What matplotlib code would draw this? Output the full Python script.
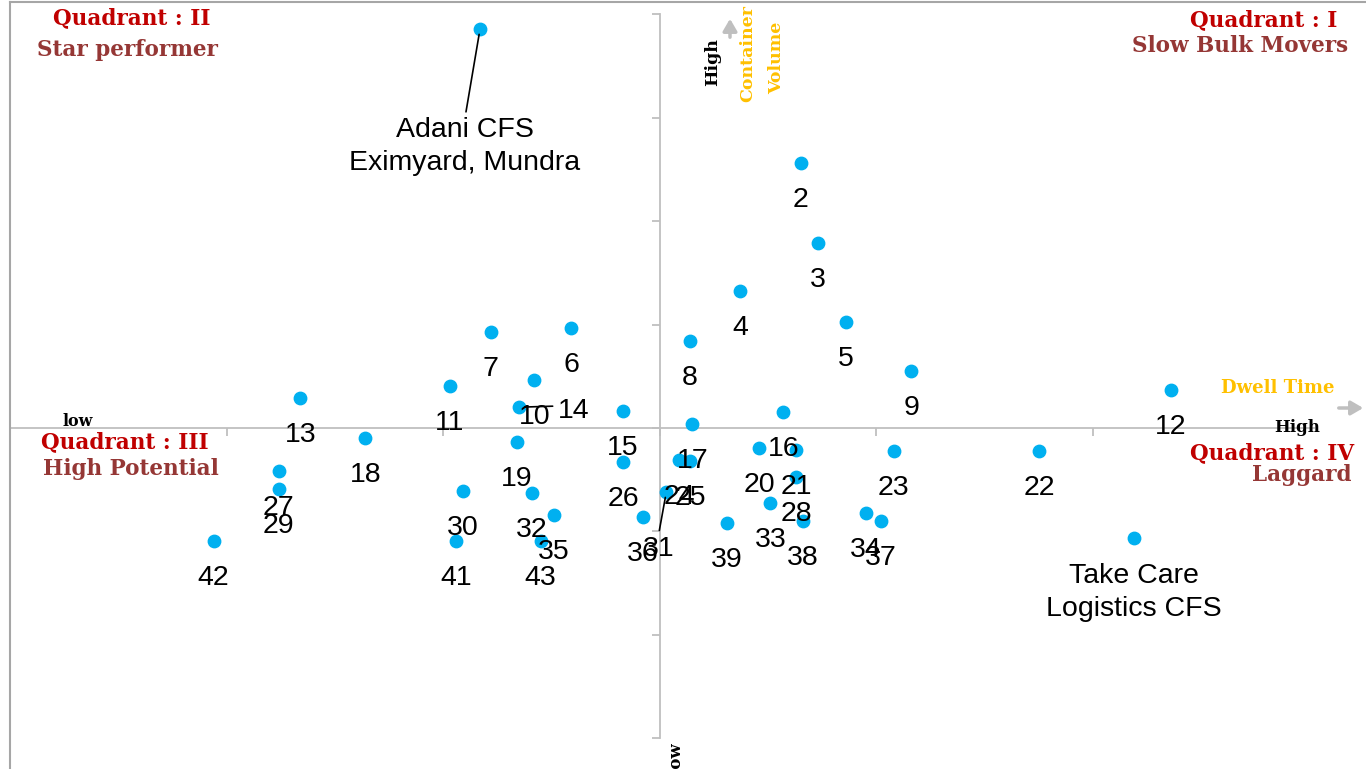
import matplotlib.pyplot as plt
from matplotlib.lines import Line2D
from matplotlib.patches import FancyArrowPatch

# data (axes cross at the average: x = dwell time, y = container volume)
labels = ["Adani CFS\nEximyard, Mundra", "2", "3", "4", "5", "6", "7", "8", "9", "10",
          "11", "12", "13", "14", "15", "16", "17", "18", "19", "20",
          "21", "22", "23", "24", "25", "26", "27", "28", "29", "30",
          "31", "32", "33", "34", "35", "36", "37", "38", "39", "41",
          "42", "43", "Take Care\nLogistics CFS"]
dwell = [-0.83, 0.65, 0.73, 0.37, 0.86, -0.41, -0.78, 0.14, 1.16, -0.58,
         -0.97, 2.36, -1.66, -0.65, -0.17, 0.57, 0.15, -1.36, -0.66, 0.46,
         0.63, 1.75, 1.08, 0.09, 0.14, -0.17, -1.76, 0.63, -1.76, -0.91,
         0.03, -0.59, 0.51, 0.95, -0.49, -0.08, 1.02, 0.66, 0.31, -0.94,
         -2.06, -0.55, 2.19]
volume = [3.86, 2.56, 1.79, 1.32, 1.02, 0.97, 0.93, 0.84, 0.55, 0.46,
          0.41, 0.37, 0.29, 0.20, 0.16, 0.15, 0.04, -0.10, -0.14, -0.19,
          -0.21, -0.22, -0.22, -0.31, -0.32, -0.33, -0.42, -0.48, -0.59, -0.61,
          -0.62, -0.63, -0.73, -0.82, -0.84, -0.86, -0.90, -0.90, -0.92, -1.09,
          -1.09, -1.09, -1.07]

W, H = 1366, 769
fig = plt.figure(figsize=(W / 100, H / 100), dpi=100)
ax = fig.add_axes([10 / W, 0, (W - 10) / W, (H - 2) / H])

grey = "#BFBFBF"
ax.set_xlim(-3.0, 3.26)
ax.set_ylim(-3.30, 4.12)

for s in ["right", "top"]:
    ax.spines[s].set_visible(False)
ax.spines["left"].set_position(("data", 0))
ax.spines["bottom"].set_position(("data", 0))
ax.spines["left"].set_bounds(-3, 4)
ax.spines["bottom"].set_bounds(-3.0, 3.02)
for s in ["left", "bottom"]:
    ax.spines[s].set_color(grey)
    ax.spines[s].set_linewidth(1.3)
ax.set_xticks([-2, -1, 0, 1, 2])
ax.set_yticks(range(-3, 5))
ax.tick_params(direction="out", length=5.8, width=1.3, color=grey,
               labelleft=False, labelbottom=False)

ax.scatter(dwell, volume, s=80, color="#00B0F0", zorder=3)

# label offsets in pixels (default just below the dot)
special = {
    "Adani CFS\nEximyard, Mundra": ((-15, -118), (0.5, 1)),
    "14": ((55, -4), (0, 0.7)),
    "31": ((-8, -57), (0.5, 1)),
    "Take Care\nLogistics CFS": ((0, -54), None),
}
for lab, x, y in zip(labels, dwell, volume):
    off, rel = special.get(lab, ((0, -37), None))
    arrow = None
    if rel is not None:
        arrow = dict(arrowstyle="-", color="black", lw=1.2, relpos=rel,
                     shrinkA=2, shrinkB=4)
    ax.annotate(lab, (x, y), xytext=off, textcoords="offset pixels",
                ha="center", va="center", fontsize=20.5, family="Liberation Sans",
                linespacing=1.35, arrowprops=arrow, zorder=4)


def fp(x, y):
    return x / W, 1 - y / H


red = "#C00000"
brown = "#953735"
gold = "#FFC000"
serif = dict(family="DejaVu Serif", fontweight="bold", ha="center", va="center")

fig.text(*fp(132, 18), "Quadrant : II", color=red, fontsize=15.5, **serif)
fig.text(*fp(127, 50), "Star performer", color=brown, fontsize=15.5, **serif)
fig.text(*fp(1264, 20), "Quadrant : I", color=red, fontsize=15.5, **serif)
fig.text(*fp(1240, 46), "Slow Bulk Movers", color=brown, fontsize=15.5, **serif)
fig.text(*fp(125, 442), "Quadrant : III", color=red, fontsize=15.5, **serif)
fig.text(*fp(131, 469), "High Potential", color=brown, fontsize=15.5, **serif)
fig.text(*fp(1272, 453), "Quadrant : IV", color=red, fontsize=15.5, **serif)
fig.text(*fp(1302, 475), "Laggard", color=brown, fontsize=15.5, **serif)

fig.text(*fp(78, 422), "low", color="black", fontsize=11.5, **serif)
fig.text(*fp(1297, 427), "High", color="black", fontsize=12, **serif)
fig.text(*fp(1278, 388), "Dwell Time", color=gold, fontsize=13, **serif)
fig.text(*fp(713, 62), "High", color="black", fontsize=12.5, rotation=90, **serif)
fig.text(*fp(748, 53), "Container", color=gold, fontsize=12.5, rotation=90, **serif)
fig.text(*fp(777, 58), "Volume", color=gold, fontsize=12.5, rotation=90, **serif)
fig.text(*fp(676, 758), "low", color="black", fontsize=12, rotation=90, **serif)

# arrows next to axis names
arrow_kw = dict(arrowstyle="-|>,head_length=0.6,head_width=0.35", color=grey, lw=2.5)
fig.add_artist(FancyArrowPatch(fp(1336, 408), fp(1366, 408),
               transform=fig.transFigure, mutation_scale=12, **arrow_kw))
fig.add_artist(FancyArrowPatch(fp(730, 40), fp(730, 16),
               transform=fig.transFigure, mutation_scale=12, **arrow_kw))

# outer frame (left and top edge)
fig.add_artist(Line2D([10 / W, 10 / W], [0, 1 - 2 / H], transform=fig.transFigure, color="#A6A6A6", lw=1.5))
fig.add_artist(Line2D([10 / W, 1], [1 - 2 / H, 1 - 2 / H], transform=fig.transFigure, color="#A6A6A6", lw=1.5))

fig.savefig("out.png", dpi=100)
